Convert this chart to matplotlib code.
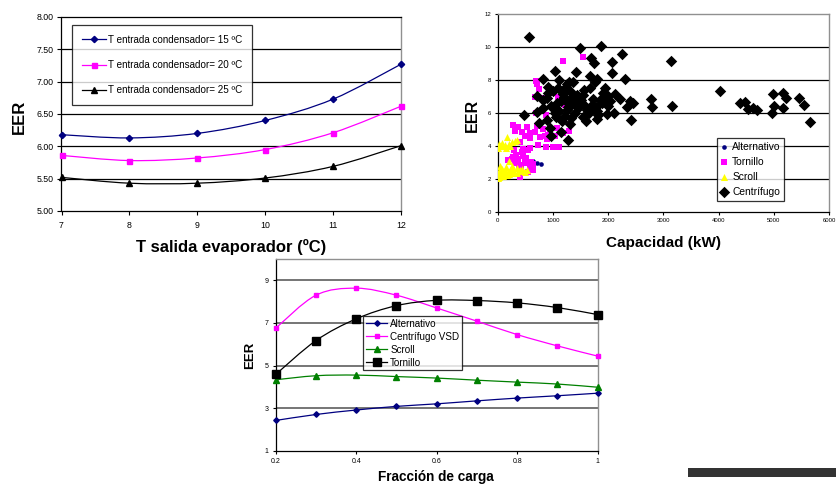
import matplotlib
matplotlib.use("Agg")
import matplotlib.pyplot as plt
from matplotlib.path import Path
from matplotlib.patches import PathPatch, Rectangle
from matplotlib.lines import Line2D

plt.rcParams['font.family'] = ['Liberation Sans', 'DejaVu Sans']

# ---------------- data: chart 1 ----------------
evap_T = [7, 8, 9, 10, 11, 12]
eer_cond15 = [6.18, 6.13, 6.20, 6.40, 6.73, 7.27]
eer_cond20 = [5.86, 5.78, 5.82, 5.95, 6.21, 6.62]
eer_cond25 = [5.52, 5.43, 5.43, 5.51, 5.69, 6.01]
labels1 = ["T entrada condensador= 15 ºC", "T entrada condensador= 20 ºC",
           "T entrada condensador= 25 ºC"]

# ---------------- data: chart 2 (scatter) ----------------
alt_x = [495, 634, 706, 779]
alt_y = [3.03, 3.08, 3.00, 2.92]
tor_x = [1539, 1177, 688, 718, 755, 676, 827, 1099, 1219, 694, 875, 1159,
         284, 374, 525, 706, 827, 314, 446, 585, 676, 948, 1068, 495, 767, 856,
         918, 1298, 1189, 404, 586, 1038, 887, 736, 869, 1009, 1110, 586, 465,
         301, 434, 555, 284, 374, 495, 254, 314, 422, 585, 555, 616, 404, 646,
         525, 392, 193, 340, 460, 520, 600, 640]
tor_y = [9.37, 9.17, 7.96, 7.75, 7.45, 6.95, 6.91, 6.97, 6.50, 6.00, 5.90, 5.66,
         5.27, 5.17, 5.17, 5.20, 5.01, 4.93, 4.87, 4.81, 4.87, 5.03, 5.09, 4.60, 4.55, 4.62,
         4.69, 4.93, 4.79, 4.26, 4.48, 4.59, 4.42, 4.06, 3.96, 3.92, 3.95, 3.88, 3.84,
         3.76, 3.66, 3.76, 3.35, 3.19, 3.11, 3.21, 3.00, 2.75, 2.65, 2.44, 2.77, 2.14, 2.57,
         2.97, 2.87, 3.13, 3.45, 3.40, 3.25, 3.05, 2.90]
scr_x = [12, 42, 72, 133, 151, 175, 223, 254, 314, 344, 100, 200, 30,
         211, 42, 133, 284, 404, 525, 42, 163, 12, 103, 254, 465, 344, 20, 70, 180,
         230, 300, 380, 440, 500, 60, 120, 200, 10, 85, 150, 260, 350, 30]
scr_y = [3.88, 3.98, 4.18, 4.08, 3.88, 4.55, 3.98, 4.22, 4.28, 4.38, 4.00, 4.10, 4.10,
         3.11, 2.77, 2.57, 2.67, 2.57, 2.53, 2.36, 2.26, 2.06, 2.16, 2.36, 2.46, 2.36, 2.50,
         2.45, 2.45, 2.55, 2.45, 2.50, 2.60, 2.45, 2.20, 2.35, 2.30, 2.30, 2.60, 2.70, 2.80,
         2.65, 2.15]
cen_x = [573, 1491, 1871, 2245, 2064, 1683, 1744, 3140, 1044, 1418, 2070, 826, 2311,
         1116, 1671, 1804, 1261, 1370, 917, 1943, 1569, 1671, 707, 917, 1177, 2130, 1443,
         1720, 1853, 2215, 2776, 4026, 826, 1069, 1237, 1443, 1582, 1781, 2396, 2456, 2801,
         3163, 707, 826, 1038, 1279, 1400, 1792, 1974, 2107, 2336, 471, 1551, 887, 1159,
         1594, 1792, 2420, 755, 1310, 948, 1141, 966, 1279,
         4388, 4479, 4539, 4628, 4688, 4980, 5004, 4962, 5172, 5221, 5161, 5463, 5553, 5656,
         1100, 1180, 1200, 1320, 1350, 1400, 1500, 1540, 1610, 1650, 1700, 1760, 1820, 1880,
         1920, 1000, 1060, 1110, 1210, 1320, 1460, 1330, 1250, 2000, 2040, 1150, 960, 900,
         1000, 1230, 1290, 1760, 1900, 2000]
cen_y = [10.59, 9.93, 10.08, 9.57, 9.07, 9.32, 9.02, 9.13, 8.57, 8.51, 8.45, 8.06, 8.09,
         7.97, 8.26, 8.05, 7.74, 7.86, 7.60, 7.52, 7.40, 7.50, 7.03, 7.19, 7.15, 7.15, 7.09,
         6.83, 6.79, 6.83, 6.85, 7.33, 6.79, 6.63, 6.71, 6.55, 6.42, 6.38, 6.75, 6.63, 6.38,
         6.45, 6.04, 6.28, 5.98, 6.34, 6.02, 6.14, 5.96, 5.98, 6.34, 5.90, 5.78, 5.60, 5.54,
         5.50, 5.64, 5.58, 5.37, 5.35, 5.08, 4.83, 4.62, 4.38,
         6.62, 6.68, 6.24, 6.28, 6.18, 7.13, 6.44, 6.02, 7.19, 6.89, 6.28, 6.93, 6.49, 5.47,
         7.50, 7.35, 6.95, 7.25, 6.95, 6.65, 6.80, 7.10, 6.20, 6.00, 6.50, 6.30, 5.90, 6.60,
         6.90, 6.30, 5.75, 6.10, 5.80, 5.70, 6.30, 6.50, 6.20, 6.40, 6.75, 6.75, 6.45, 6.90,
         7.35, 7.55, 7.90, 7.85, 7.20, 7.00]
labels2 = ["Alternativo", "Tornillo", "Scroll", "Centrífugo"]

# ---------------- data: chart 3 ----------------
carga = [0.2, 0.3, 0.4, 0.5, 0.6, 0.7, 0.8, 0.9, 1.0]
eer_alt = [2.42, 2.70, 2.91, 3.08, 3.20, 3.34, 3.47, 3.58, 3.70]
eer_vsd = [6.75, 8.30, 8.63, 8.30, 7.70, 7.08, 6.45, 5.92, 5.44]
eer_scroll = [4.33, 4.52, 4.55, 4.48, 4.41, 4.31, 4.22, 4.13, 3.98]
eer_torn = [4.58, 6.17, 7.19, 7.81, 8.06, 8.05, 7.94, 7.72, 7.39]
labels3 = ["Alternativo", "Centrífugo VSD", "Scroll", "Tornillo"]

W, H = 837, 486
fig = plt.figure(figsize=(W / 100, H / 100), dpi=100)


def add_ax(l, t, r, b):
    return fig.add_axes([l / W, 1 - b / H, (r - l) / W, (b - t) / H])


def smooth_line(ax, x, y, color, lw=0.9):
    n = len(x)
    pts = list(zip(x, y))
    verts = [pts[0]]
    codes = [Path.MOVETO]
    for i in range(n - 1):
        p0 = pts[i - 1] if i > 0 else pts[i]
        p1 = pts[i]
        p2 = pts[i + 1]
        p3 = pts[i + 2] if i + 2 < n else pts[i + 1]
        c1 = (p1[0] + (p2[0] - p0[0]) / 6, p1[1] + (p2[1] - p0[1]) / 6)
        c2 = (p2[0] - (p3[0] - p1[0]) / 6, p2[1] - (p3[1] - p1[1]) / 6)
        verts += [c1, c2, p2]
        codes += [Path.CURVE4] * 3
    ax.add_patch(PathPatch(Path(verts, codes), fill=False, edgecolor=color,
                           lw=lw, transform=ax.transData, zorder=3))


def style_axes(ax, tick_fs, gray_top=True):
    for s in ['left', 'bottom']:
        ax.spines[s].set_color('black')
        ax.spines[s].set_linewidth(0.9)
    ax.spines['right'].set_color('#909090')
    ax.spines['right'].set_linewidth(1.0)
    ax.spines['top'].set_color('#909090' if gray_top else 'black')
    ax.spines['top'].set_linewidth(1.0)
    ax.tick_params(direction='out', length=3, width=0.8, labelsize=tick_fs,
                   colors='black', pad=2.5, top=False, right=False)


# ---------------- chart 1 ----------------
ax1 = add_ax(61.5, 17, 401, 211)
ax1.set_xlim(7, 12)
ax1.set_ylim(5.0, 8.0)
ax1.set_xticks(evap_T)
ax1.set_yticks([5.0, 5.5, 6.0, 6.5, 7.0, 7.5, 8.0])
ax1.set_yticklabels([f"{v:.2f}" for v in [5.0, 5.5, 6.0, 6.5, 7.0, 7.5, 8.0]])
for v in [5.5, 6.0, 6.5, 7.0, 7.5]:
    ax1.axhline(v, color='black', lw=0.9, zorder=1)
style_axes(ax1, 6.3, gray_top=False)
ax1.spines['top'].set_linewidth(0.9)
ax1.tick_params(axis='x', pad=4)

series1 = [(eer_cond15, '#000080', 'D', 3.2),
           (eer_cond20, '#FF00FF', 's', 3.6),
           (eer_cond25, 'black', '^', 4.0)]
handles1 = []
for (yv, c, m, ms), lab in zip(series1, labels1):
    smooth_line(ax1, evap_T, yv, c)
    ax1.plot(evap_T, yv, ls='none', marker=m, ms=ms, color=c, zorder=4, clip_on=False)
    handles1.append(Line2D([], [], color=c, marker=m, ms=ms, lw=0.9, label=lab))
leg1 = ax1.legend(handles=handles1, loc='upper left',
                  bbox_to_anchor=(72 / W, 1 - 25 / H), bbox_transform=fig.transFigure,
                  fontsize=7.1, frameon=True, fancybox=False, borderpad=1.0,
                  labelspacing=1.55, handlelength=2.4, handletextpad=0.25,
                  borderaxespad=0)
leg1.get_frame().set_edgecolor('black')
leg1.get_frame().set_linewidth(0.9)
fig.text(19 / W, 1 - 117 / H, "EER", rotation=90, fontsize=12, fontweight='bold',
         ha='center', va='center')
fig.text(231 / W, 1 - 247 / H, "T salida evaporador (ºC)", fontsize=12,
         fontweight='bold', ha='center', va='center')

# ---------------- chart 2 ----------------
ax2 = add_ax(497.7, 14, 829, 212)
ax2.set_xlim(0, 6000)
ax2.set_ylim(0, 12)
ax2.set_xticks(range(0, 6001, 1000))
ax2.set_yticks(range(0, 13, 2))
for v in [2, 4, 6, 8, 10]:
    ax2.axhline(v, color='black', lw=0.9, zorder=1)
style_axes(ax2, 4.3)
ax2.tick_params(length=2.5, pad=2)
s_alt = ax2.scatter(alt_x, alt_y, s=11, marker='o', color='#000080', zorder=3,
                    linewidths=0)
s_tor = ax2.scatter(tor_x, tor_y, s=17, marker='s', color='#FF00FF', zorder=3,
                    linewidths=0)
s_scr = ax2.scatter(scr_x, scr_y, s=26, marker='^', color='#FFFF00', zorder=3,
                    linewidths=0)
s_cen = ax2.scatter(cen_x, cen_y, s=34, marker='D', color='black', zorder=4,
                    linewidths=0)
leg2 = ax2.legend([s_alt, s_tor, s_scr, s_cen], labels2, loc='upper left',
                  bbox_to_anchor=(716.7 / W, 1 - 138 / H),
                  bbox_transform=fig.transFigure, fontsize=7.4, frameon=True,
                  fancybox=False, borderpad=0.35, labelspacing=0.5,
                  handlelength=0.7, handletextpad=0.45, borderaxespad=0,
                  scatterpoints=1)
leg2.get_frame().set_edgecolor('black')
leg2.get_frame().set_linewidth(0.9)
fig.text(472 / W, 1 - 115 / H, "EER", rotation=90, fontsize=11.5, fontweight='bold',
         ha='center', va='center')
fig.text(664 / W, 1 - 243 / H, "Capacidad (kW)", fontsize=11, fontweight='bold',
         ha='center', va='center')

# ---------------- chart 3 ----------------
ax3 = add_ax(275.7, 259, 597.7, 450.7)
ax3.set_xlim(0.2, 1.0)
ax3.set_ylim(1, 10)
ax3.set_xticks([0.2, 0.4, 0.6, 0.8, 1.0])
ax3.set_xticklabels(["0.2", "0.4", "0.6", "0.8", "1"])
ax3.set_yticks([1, 3, 5, 7, 9])
for v in [3, 5, 7, 9]:
    ax3.axhline(v, color='#505050', lw=1.1, zorder=1)
style_axes(ax3, 5)
ax3.tick_params(length=2.5, pad=2.5)

series3 = [(eer_alt, '#000080', 'D', 2.8),
           (eer_vsd, '#FF00FF', 's', 3.4),
           (eer_scroll, '#008000', '^', 3.8),
           (eer_torn, 'black', 's', 5.2)]
handles3 = []
for (yv, c, m, ms), lab in zip(series3, labels3):
    smooth_line(ax3, carga, yv, c)
    ax3.plot(carga, yv, ls='none', marker=m, ms=ms, color=c, zorder=4, clip_on=False)
    handles3.append(Line2D([], [], color=c, marker=m, ms=ms, lw=0.9, label=lab))
leg3 = ax3.legend(handles=handles3, loc='upper left',
                  bbox_to_anchor=(362.7 / W, 1 - 315.7 / H),
                  bbox_transform=fig.transFigure, fontsize=7.1, frameon=True,
                  fancybox=False, borderpad=0.3, labelspacing=0.3,
                  handlelength=2.2, handletextpad=0.3, borderaxespad=0)
leg3.get_frame().set_edgecolor('black')
leg3.get_frame().set_linewidth(0.9)
leg3.set_zorder(6)
fig.text(250 / W, 1 - 355 / H, "EER", rotation=90, fontsize=9.5, fontweight='bold',
         ha='center', va='center')
fig.text(436 / W, 1 - 477 / H, "Fracción de carga", fontsize=9.8, fontweight='bold',
         ha='center', va='center')

# decorative dark bar at the bottom right
fig.add_artist(Rectangle((688 / W, 1 - 476.7 / H), (837 - 688) / W, 8.4 / H,
                         transform=fig.transFigure, facecolor='#333333',
                         edgecolor='none'))

fig.savefig("out.png", dpi=100)
